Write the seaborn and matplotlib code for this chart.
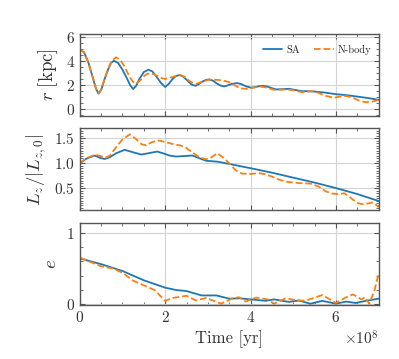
import matplotlib
matplotlib.use("Agg")
import matplotlib.pyplot as plt
import numpy as np
import pandas as pd
import seaborn as sns
from matplotlib.ticker import MultipleLocator

# time in units of 1e8 yr
t_r_sa = [0.0, 0.1, 0.2, 0.3, 0.38, 0.44, 0.5, 0.58, 0.66, 0.73, 0.80, 0.9, 1.0,
          1.1, 1.18, 1.25, 1.32, 1.4, 1.5, 1.61, 1.7, 1.8, 1.9, 2.0, 2.08, 2.17,
          2.25, 2.34, 2.43, 2.53, 2.62, 2.71, 2.79, 2.87, 2.95, 3.03, 3.12, 3.2,
          3.3, 3.38, 3.46, 3.55, 3.68, 3.78, 3.9, 4.0, 4.1, 4.2, 4.3, 4.4, 4.5,
          4.6, 4.75, 4.9, 5.05, 5.2, 5.35, 5.5, 5.75, 6.0, 6.25, 6.5, 6.75, 7.0]
r_sa = [5.0, 4.75, 3.9, 2.7, 1.7, 1.3, 1.6, 2.5, 3.3, 3.85, 4.05, 3.85, 3.3,
        2.6, 2.0, 1.68, 1.95, 2.55, 3.1, 3.3, 3.15, 2.7, 2.2, 1.85, 2.1, 2.5,
        2.77, 2.85, 2.7, 2.35, 2.05, 1.95, 2.1, 2.3, 2.44, 2.48, 2.38, 2.17,
        1.97, 1.9, 1.98, 2.1, 2.18, 2.1, 1.9, 1.8, 1.83, 1.92, 1.95, 1.88, 1.75,
        1.65, 1.67, 1.7, 1.6, 1.5, 1.5, 1.47, 1.38, 1.25, 1.17, 1.05, 0.93, 0.78]

t_r_nb = [0.0, 0.1, 0.2, 0.3, 0.38, 0.44, 0.5, 0.58, 0.66, 0.75, 0.85, 0.95,
          1.05, 1.15, 1.24, 1.31, 1.4, 1.5, 1.58, 1.66, 1.75, 1.85, 1.93, 2.0,
          2.1, 2.2, 2.35, 2.45, 2.55, 2.65, 2.72, 2.8, 2.9, 3.05, 3.2, 3.35, 3.5,
          3.6, 3.7, 3.8, 3.9, 4.05, 4.2, 4.35, 4.55, 4.7, 4.85, 5.0, 5.2, 5.35,
          5.45, 5.6, 5.75, 5.95, 6.1, 6.25, 6.4, 6.55, 6.7, 6.85, 7.0]
r_nb = [5.0, 4.75, 3.9, 2.7, 1.72, 1.32, 1.62, 2.5, 3.35, 4.05, 4.33, 4.1,
        3.55, 2.8, 2.3, 2.13, 2.35, 2.75, 2.95, 3.0, 2.9, 2.7, 2.57, 2.53,
        2.6, 2.72, 2.85, 2.72, 2.4, 2.18, 2.12, 2.2, 2.35, 2.48, 2.45, 2.4, 2.25,
        2.05, 1.85, 1.72, 1.7, 1.78, 1.9, 1.82, 1.62, 1.62, 1.65, 1.58, 1.42, 1.47,
        1.5, 1.35, 1.12, 0.95, 1.05, 1.1, 0.95, 0.7, 0.58, 0.63, 0.78]

t_l_sa = [0.0, 0.15, 0.35, 0.47, 0.58, 0.7, 0.85, 1.05, 1.25, 1.44, 1.6, 1.81,
          1.95, 2.1, 2.25, 2.45, 2.64, 2.8, 2.96, 3.24, 3.5, 4.0, 4.5, 5.0, 5.5,
          6.0, 6.5, 7.0]
lz_sa = [1.0, 1.09, 1.155, 1.11, 1.085, 1.12, 1.2, 1.27, 1.22, 1.175, 1.2, 1.235,
         1.2, 1.155, 1.135, 1.145, 1.155, 1.1, 1.05, 1.03, 0.985, 0.9, 0.81, 0.71,
         0.61, 0.5, 0.38, 0.24]

t_l_nb = [0.0, 0.15, 0.37, 0.5, 0.6, 0.7, 0.85, 1.0, 1.17, 1.3, 1.45, 1.55, 1.68,
          1.82, 2.0, 2.2, 2.35, 2.48, 2.6, 2.8, 2.95, 3.05, 3.22, 3.35, 3.5, 3.65,
          3.8, 4.0, 4.2, 4.35, 4.5, 4.7, 4.9, 5.15, 5.4, 5.6, 5.75, 5.9, 6.05, 6.2,
          6.35, 6.5, 6.62, 6.75, 6.85, 6.93, 7.0]
lz_nb = [1.0, 1.1, 1.175, 1.14, 1.11, 1.15, 1.32, 1.48, 1.58, 1.5, 1.38, 1.36, 1.42,
         1.46, 1.43, 1.38, 1.36, 1.32, 1.24, 1.12, 1.08, 1.1, 1.2, 1.12, 1.0, 0.86,
         0.79, 0.785, 0.8, 0.78, 0.73, 0.66, 0.62, 0.6, 0.59, 0.53, 0.44, 0.39, 0.38,
         0.395, 0.3, 0.2, 0.175, 0.19, 0.21, 0.17, 0.115]

t_e_sa = [0.0, 0.5, 1.0, 1.5, 2.0, 2.26, 2.5, 2.85, 3.2, 3.5, 3.75, 4.0, 4.36,
          4.55, 4.9, 5.13, 5.4, 5.68, 6.0, 6.24, 6.46, 6.7, 7.0]
e_sa = [0.64, 0.56, 0.465, 0.335, 0.233, 0.2, 0.186, 0.125, 0.125, 0.08, 0.085,
        0.07, 0.05, 0.07, 0.035, 0.055, 0.01, 0.05, 0.01, 0.04, 0.02, 0.05, 0.08]

t_e_nb = [0.0, 0.5, 0.78, 1.0, 1.25, 1.5, 1.75, 2.0, 2.18, 2.5, 2.72, 2.96, 3.31,
          3.58, 3.73, 3.89, 4.0, 4.14, 4.4, 4.55, 4.82, 5.05, 5.28, 5.68, 6.0,
          6.24, 6.4, 6.6, 6.68, 6.78, 6.9, 7.0]
e_nb = [0.65, 0.53, 0.5, 0.44, 0.33, 0.265, 0.2, 0.05, 0.09, 0.12, 0.055, 0.09, 0.01,
        0.085, 0.1, 0.04, 0.07, 0.095, 0.07, 0.01, 0.085, 0.06, 0.05, 0.13, 0.02,
        0.1, 0.14, 0.07, 0.1, 0.01, 0.19, 0.43]

sns.set_style("ticks")
plt.rcParams["font.family"] = ["cmr10", "DejaVu Serif"]
plt.rcParams["mathtext.fontset"] = "cm"
plt.rcParams["axes.formatter.use_mathtext"] = True
plt.rcParams["axes.unicode_minus"] = False

BLUE = "#1f77b4"
ORANGE = "#ff7f0e"
EDGE = "#555555"
TXT = "#333333"

fig, axes = plt.subplots(3, 1, figsize=(3.99, 3.59), dpi=100, sharex=True)
fig.subplots_adjust(left=0.2, right=0.949, top=0.906, bottom=0.15, hspace=0.155)

panels = [
    (t_r_sa, r_sa, t_r_nb, r_nb, r"$r\ [\mathrm{kpc}]$", (-0.55, 6.3), 2, 0.5),
    (t_l_sa, lz_sa, t_l_nb, lz_nb, r"$L_z/|L_{z,0}|$", (0.05, 1.7), 0.5, 0.05),
    (t_e_sa, e_sa, t_e_nb, e_nb, r"$e$", (-0.01, 1.13), 1, 0.2),
]

for i, (ax, (ts, ys, tn, yn, lab, ylim, maj, mnr)) in enumerate(zip(axes, panels)):
    sa = pd.DataFrame({"t": np.array(ts) * 1e8, "v": ys})
    nb = pd.DataFrame({"t": np.array(tn) * 1e8, "v": yn})
    sns.lineplot(data=sa, x="t", y="v", ax=ax, color=BLUE, lw=1.3,
                 label="SA" if i == 0 else None)
    sns.lineplot(data=nb, x="t", y="v", ax=ax, color=ORANGE, lw=1.3, ls="--",
                 label="N-body" if i == 0 else None)
    ax.set_xlim(0, 7e8)
    ax.set_ylim(*ylim)
    ax.yaxis.set_major_locator(MultipleLocator(maj))
    ax.yaxis.set_minor_locator(MultipleLocator(mnr))
    ax.xaxis.set_major_locator(MultipleLocator(2e8))
    ax.xaxis.set_minor_locator(MultipleLocator(0.5e8))
    ax.grid(True, which="major", color="#d3d3d3", lw=0.8)
    ax.set_axisbelow(True)
    ax.tick_params(which="both", direction="in", top=True, right=True,
                   color=EDGE, labelsize=11, labelcolor=TXT)
    ax.tick_params(which="major", length=3.5, width=0.8)
    ax.tick_params(which="minor", length=2, width=0.6)
    for s in ax.spines.values():
        s.set_color(EDGE)
        s.set_linewidth(1.0)
    ax.set_ylabel(lab, fontsize=13.5, color=TXT)
    ax.set_xlabel("")

axes[1].set_yticks([0.5, 1.0, 1.5])
axes[2].set_yticks([0, 1])
axes[2].set_xlabel("Time [yr]", fontsize=12, color=TXT)
axes[2].xaxis.get_offset_text().set_fontsize(11)
axes[2].xaxis.get_offset_text().set_color(TXT)

axes[0].legend(loc="upper right", ncol=2, frameon=False, fontsize=7.5,
               handlelength=1.9, columnspacing=1.3, handletextpad=0.4,
               borderaxespad=0.3, bbox_to_anchor=(1.0, 0.95))

fig.savefig("out.png", dpi=100)
